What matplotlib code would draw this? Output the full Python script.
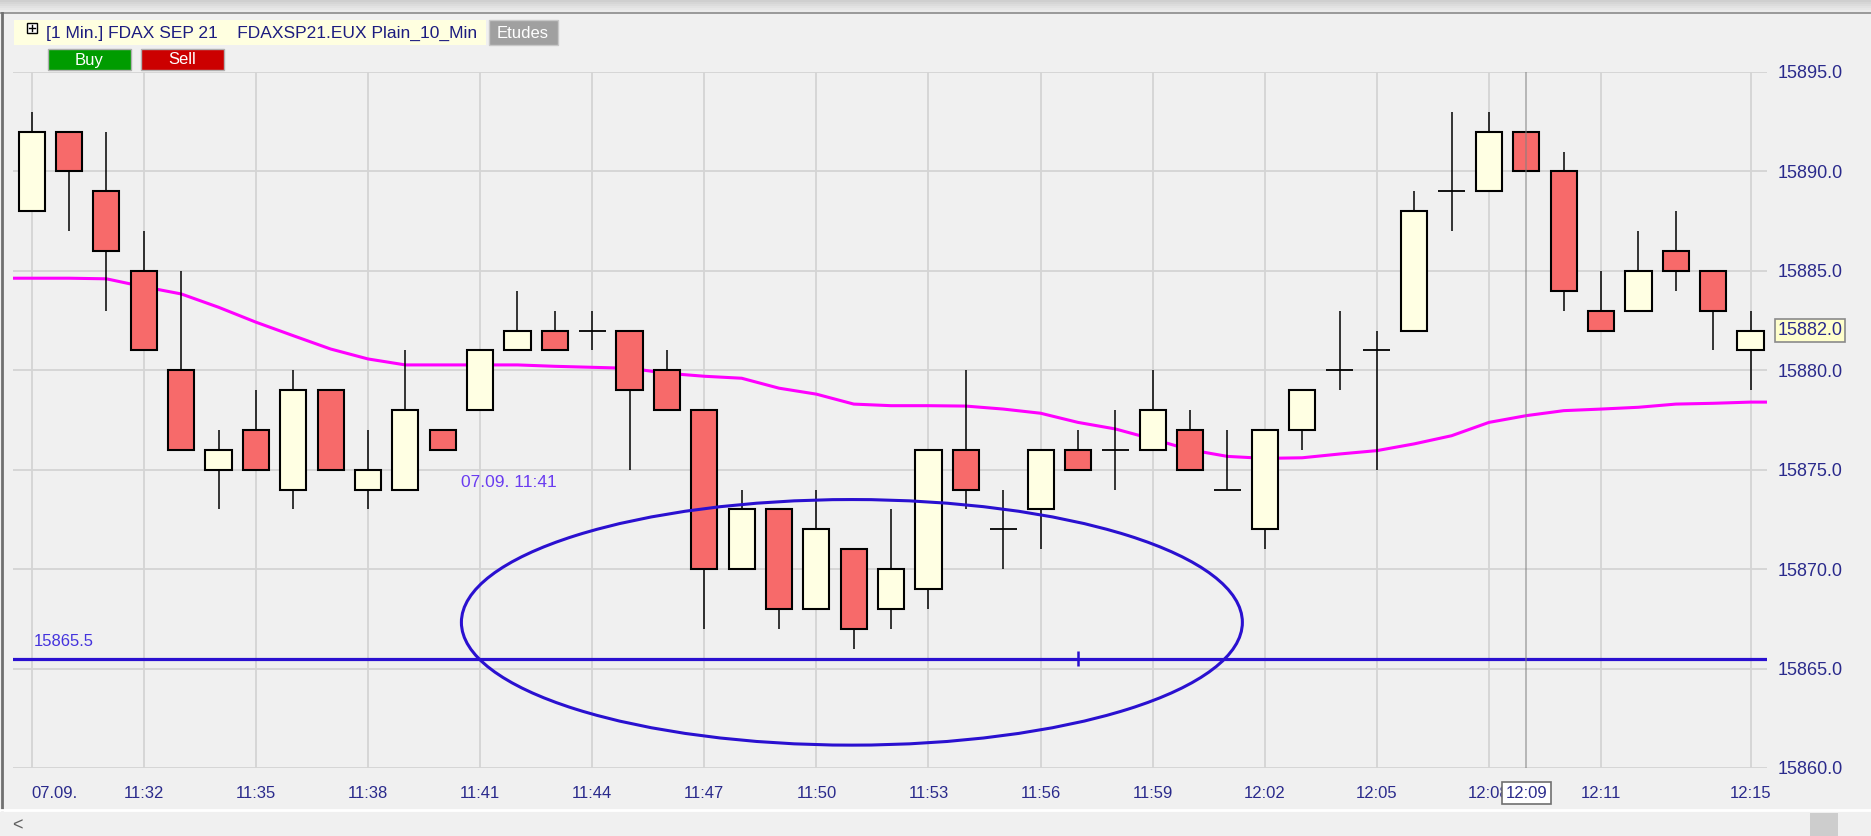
import numpy as np
import pandas as pd
import matplotlib
matplotlib.use('Agg')
import matplotlib.pyplot as plt
import matplotlib.transforms as mtransforms
from matplotlib.patches import Rectangle, Ellipse
from matplotlib.lines import Line2D

plt.rcParams['font.family'] = ['Liberation Sans', 'DejaVu Sans']

# 1 minute bars, FDAX SEP 21, 07.09. 11:29 - 12:15
minutes = pd.date_range('2021-09-07 11:29', '2021-09-07 12:15', freq='min').strftime('%H:%M').tolist()

opens = [15888, 15892, 15889, 15885, 15880, 15875, 15877, 15874, 15879, 15874,
         15874, 15877, 15878, 15881, 15882, 15882, 15882, 15880, 15878, 15870,
         15873, 15868, 15871, 15868, 15869, 15876, 15872, 15873, 15876, 15876,
         15876, 15877, 15874, 15872, 15877, 15880, 15881, 15882, 15889, 15889,
         15892, 15890, 15883, 15883, 15886, 15885, 15881]
highs = [15893, 15892, 15892, 15887, 15885, 15877, 15879, 15880, 15879, 15877,
         15881, 15877, 15881, 15884, 15883, 15883, 15882, 15881, 15878, 15874,
         15873, 15874, 15871, 15873, 15876, 15880, 15874, 15876, 15877, 15878,
         15880, 15878, 15877, 15877, 15879, 15883, 15882, 15889, 15893, 15893,
         15892, 15891, 15885, 15887, 15888, 15885, 15883]
lows = [15888, 15887, 15883, 15881, 15876, 15873, 15875, 15873, 15875, 15873,
        15874, 15876, 15878, 15881, 15881, 15881, 15875, 15878, 15867, 15870,
        15867, 15868, 15866, 15867, 15868, 15873, 15870, 15871, 15875, 15874,
        15876, 15875, 15874, 15871, 15876, 15879, 15875, 15882, 15887, 15889,
        15890, 15883, 15882, 15883, 15884, 15881, 15879]
closes = [15892, 15890, 15886, 15881, 15876, 15876, 15875, 15879, 15875, 15875,
          15878, 15876, 15881, 15882, 15881, 15882, 15879, 15878, 15870, 15873,
          15868, 15872, 15867, 15870, 15876, 15874, 15872, 15876, 15875, 15876,
          15878, 15875, 15874, 15877, 15879, 15880, 15881, 15888, 15889, 15892,
          15890, 15884, 15882, 15885, 15885, 15883, 15882]
ma_10 = [15884.63, 15884.63, 15884.6, 15884.2, 15883.84, 15883.17, 15882.42, 15881.74,
         15881.07, 15880.57, 15880.27, 15880.27, 15880.27, 15880.27, 15880.2, 15880.15,
         15880.1, 15879.85, 15879.7, 15879.6, 15879.1, 15878.8, 15878.3, 15878.22,
         15878.22, 15878.2, 15878.05, 15877.84, 15877.38, 15877.05, 15876.54, 15876.0,
         15875.67, 15875.57, 15875.6, 15875.79, 15875.96, 15876.3, 15876.71, 15877.38,
         15877.72, 15877.97, 15878.05, 15878.14, 15878.3, 15878.34, 15878.4]

tick_times = ['11:29', '11:32', '11:35', '11:38', '11:41', '11:44', '11:47', '11:50',
              '11:53', '11:56', '11:59', '12:02', '12:05', '12:08', '12:11', '12:15']
tick_labels = ['07.09.', '11:32', '11:35', '11:38', '11:41', '11:44', '11:47', '11:50',
               '11:53', '11:56', '11:59', '12:02', '12:05', '12:08', '12:11', '12:15']
price_ticks = [15860, 15865, 15870, 15875, 15880, 15885, 15890, 15895]

support_level = 15865.5
support_mark_time = '11:57'
last_price = 15882.0
cursor_time = '12:09'
drawing_label = '07.09. 11:41'
# ellipse drawing: bounds in bar units and price
ellipse_bars = [11.5, 32.4]
ellipse_prices = [15861.15, 15873.5]

W, H = 1871, 836
BG = '#f0f0f0'
UP = '#ffffe3'
DOWN = '#f76a6a'
NAVY = '#2a2a8c'
BLUE = '#2a10d0'

fig = plt.figure(figsize=(W / 100, H / 100), dpi=100, facecolor=BG)


def px_rect(x0, y0, x1, y1, **kw):
    r = Rectangle((x0 / W, 1 - y1 / H), (x1 - x0) / W, (y1 - y0) / H,
                  transform=fig.transFigure, **kw)
    fig.add_artist(r)
    return r


def px_text(x, y, s, **kw):
    return fig.text(x / W, 1 - y / H, s, **kw)


# window chrome
for k, col in enumerate(['#cfcfcf', '#d6d6d6', '#dcdcdc', '#e2e2e2', '#e7e7e7', '#ebebeb']):
    px_rect(0, k * 2, W, k * 2 + 2, color=col, lw=0)
fig.add_artist(Line2D([0, 1], [1 - 13 / H, 1 - 13 / H], transform=fig.transFigure, color='#8a8a8a', lw=1.2))
fig.add_artist(Line2D([2 / W, 2 / W], [1 - 13 / H, 1 - 810 / H], transform=fig.transFigure, color='#707070', lw=2))

ax = fig.add_axes([13 / W, 68 / H, (1767 - 13) / W, (768 - 72) / H])
ax.set_facecolor(BG)
for s in ax.spines.values():
    s.set_visible(False)

x = np.arange(len(minutes))
o, h, l, c = map(np.array, (opens, highs, lows, closes))
up = c > o
dn = c < o
flat = c == o

ax.vlines(x, l, h, color='black', lw=1.1, zorder=3)
ax.bar(x[up], (c - o)[up], bottom=o[up], width=0.7, color=UP, edgecolor='black', lw=1.5, zorder=4)
ax.bar(x[dn], (o - c)[dn], bottom=c[dn], width=0.7, color=DOWN, edgecolor='black', lw=1.5, zorder=4)
ax.hlines(o[flat], x[flat] - 0.36, x[flat] + 0.36, color='black', lw=1.3, zorder=4)

# moving average
ma_x = np.r_[-0.47, x, x[-1] + 0.45]
ma_y = np.r_[ma_10[0], ma_10, ma_10[-1]]
ax.plot(ma_x, ma_y, color='#ff00ff', lw=2.2, zorder=2)

# support line and drawings
ax.axhline(support_level, color=BLUE, lw=2.3, zorder=5)
xm = minutes.index(support_mark_time)
ax.vlines(xm, support_level - 0.36, support_level + 0.36, color=BLUE, lw=1.8, zorder=5)
ax.text(0.05, support_level + 0.86, f'{support_level:.1f}', color='#4433dd', fontsize=12,
        ha='left', va='center', zorder=6)

ell = Ellipse(((ellipse_bars[0] + ellipse_bars[1]) / 2, (ellipse_prices[0] + ellipse_prices[1]) / 2),
              ellipse_bars[1] - ellipse_bars[0], ellipse_prices[1] - ellipse_prices[0],
              fill=False, edgecolor=BLUE, lw=2.2, zorder=5)
ax.add_patch(ell)
ax.text(ellipse_bars[0], 15874.35, drawing_label, color='#6a3cf0', fontsize=12.5,
        ha='left', va='center', zorder=6)

# cursor line
xc = minutes.index(cursor_time)
ax.axvline(xc, color='#808080', lw=1.2, alpha=0.6, zorder=6)

# axes setup
ax.set_xlim(-0.5, 46.44)
ax.set_ylim(price_ticks[0], price_ticks[-1])
ax.set_xticks([minutes.index(t) for t in tick_times])
ax.set_xticklabels(tick_labels)
ax.xaxis.get_ticklabels()[0].set_horizontalalignment('left')
ax.set_yticks(price_ticks)
ax.set_yticklabels([f'{p:.1f}' for p in price_ticks])
ax.yaxis.tick_right()
ax.tick_params(axis='x', length=0, pad=13, labelsize=12, labelcolor=NAVY)
ax.tick_params(axis='y', length=0, pad=7.5, labelsize=13, labelcolor=NAVY)
ax.grid(True, color='#d4d4d4', lw=1.3, zorder=0)
ax.set_axisbelow(True)

# last price box
blend_y = mtransforms.blended_transform_factory(ax.transAxes, ax.transData)
ax.annotate(f'{last_price:.1f}', xy=(1, last_price), xycoords=blend_y,
            xytext=(7.5, 0), textcoords='offset points', ha='left', va='center',
            fontsize=13, color=NAVY, annotation_clip=False,
            bbox=dict(boxstyle='square,pad=0.15', fc='#ffffcc', ec='#8a8a8a', lw=1.2))

# cursor time box
blend_x = mtransforms.blended_transform_factory(ax.transData, ax.transAxes)
ax.annotate(cursor_time, xy=(xc, 0), xycoords=blend_x, xytext=(0, -25), textcoords='offset pixels',
            ha='center', va='center', fontsize=12, color=NAVY, annotation_clip=False, zorder=10,
            bbox=dict(boxstyle='square,pad=0.2', fc='white', ec='#707070', lw=1.2))

# header
px_rect(14, 20, 486, 45, color='#ffffe0', lw=0)
px_rect(27, 23, 37, 33, fc='white', ec='black', lw=1)
fig.add_artist(Line2D([29 / W, 35 / W], [1 - 28 / H, 1 - 28 / H], transform=fig.transFigure, color='black', lw=1))
fig.add_artist(Line2D([32 / W, 32 / W], [1 - 25 / H, 1 - 31 / H], transform=fig.transFigure, color='black', lw=1))
px_text(46, 33, '[1 Min.] FDAX SEP 21    FDAXSP21.EUX Plain_10_Min', color='#1c1c80',
        fontsize=12.5, va='center', ha='left')
px_rect(489, 20, 558, 45, fc='#a0a0a0', ec='#c8c8c8', lw=1)
px_text(523, 33, 'Etudes', color='white', fontsize=12, va='center', ha='center')

px_rect(48, 49, 131, 70, fc='#009c00', ec='#b0b0b0', lw=1)
px_text(89, 60, 'Buy', color='white', fontsize=12, va='center', ha='center')
px_rect(141, 49, 224, 70, fc='#cc0000', ec='#b0b0b0', lw=1)
px_text(182, 60, 'Sell', color='white', fontsize=12, va='center', ha='center')

# scrollbar
fig.add_artist(Line2D([0, 1], [1 - 810 / H, 1 - 810 / H], transform=fig.transFigure, color='white', lw=2))
px_text(17, 826, '<', color='#606060', fontsize=13, va='center', ha='center')
px_rect(1810, 813, 1838, 836, color='#cdcdcd', lw=0)

fig.savefig('out.png', dpi=100, facecolor=BG)
